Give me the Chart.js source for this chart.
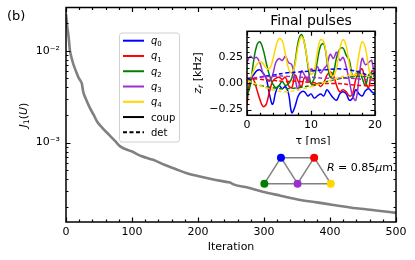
<!DOCTYPE html>
<html>
<head>
<meta charset="utf-8">
<script src="https://cdn.jsdelivr.net/npm/chart.js@4/dist/chart.umd.min.js"></script>
<style>
html, body { margin: 0; padding: 0; background: #fff; }
#wrap { position: relative; width: 415px; height: 260px; }
#main { position: absolute; left: 0; top: 0; }
#inset { position: absolute; left: 185px; top: 10px; }
</style>
</head>
<body>
<div id="wrap">
  <canvas id="main" width="415" height="260"></canvas>
  <canvas id="inset" width="200" height="135"></canvas>
</div>
<script>
const FONT = "'DejaVu Sans', sans-serif";

// main curve: cost J1(U) per iteration
const iters = [0, 1, 2, 3, 4, 6, 8, 11, 15, 19, 22, 24, 26, 30, 36, 42, 47, 55, 65, 75,
  82, 100, 115, 132, 150, 165, 183, 203, 225, 245, 250, 252, 275, 298, 325, 355, 380, 405, 440, 470, 500];
const costVals = [0.0250, 0.0215, 0.0180, 0.0160, 0.0140, 0.0100, 0.0086, 0.0072, 0.0060, 0.0051,
  0.0047, 0.0044, 0.0036, 0.0030, 0.0024, 0.0020, 0.0017, 0.00145, 0.00122, 0.00103,
  0.00091, 0.00080, 0.00071, 0.00065, 0.00057, 0.00052, 0.000465, 0.000428, 0.000395, 0.000372,
  0.000365, 0.000356, 0.000325, 0.000293, 0.000265, 0.000238, 0.000224, 0.000210, 0.000193, 0.000183,
  0.000172];

const xTicks = [0, 100, 200, 300, 400, 500];
const yTicks = [1e-3, 1e-2];

// qubits
const qLabels = ["0", "1", "2", "3", "4"];
const qColors = ["#0000ff", "#ff0000", "#008000", "#9932cc", "#ffd700"];

// lattice diagram
const nodeX = [1, 3, 0, 2, 4];
const nodeY = [1, 1, 0, 0, 0];
const edges = [[0, 1], [2, 3], [3, 4], [0, 2], [0, 3], [1, 3], [1, 4]];

// inset: final pulses
const tauFine = [0, 0.5, 1, 1.5, 2, 2.5, 3, 3.5, 4, 4.5, 5, 5.5, 6, 6.5, 7, 7.5, 8, 8.5, 9, 9.5,
  10, 10.5, 11, 11.5, 12, 12.5, 13, 13.5, 14, 14.5, 15, 15.5, 16, 16.5, 17, 17.5, 18, 18.5, 19, 19.5, 20];
const coupQ0 = [0.02, 0.04, 0.08, 0.12, 0.13, 0.10, 0.05, -0.10, -0.20, -0.08, -0.02, -0.05, -0.03, -0.10, -0.28, -0.22, -0.12, -0.08, -0.08, -0.12,
  -0.10, -0.14, -0.12, -0.10, -0.12, -0.06, -0.10, -0.14, -0.16, -0.10, -0.08, -0.10, -0.16, -0.14, -0.06, -0.10, -0.12, -0.07, -0.05, -0.08, -0.10];
const coupQ1 = [-0.20, 0.04, 0.04, -0.05, -0.15, -0.22, -0.20, -0.08, 0.02, 0.05, 0.06, 0.04, 0.06, -0.02, -0.04, 0.08, 0.02, -0.03, 0.06, 0.04,
  0.00, -0.02, 0.00, -0.03, 0.01, 0.08, 0.11, 0.08, -0.02, -0.08, -0.06, -0.08, -0.12, -0.10, 0.04, 0.10, 0.14, 0.02, -0.04, 0.12, 0.10];
const coupQ2 = [-0.12, -0.02, 0.20, 0.36, 0.40, 0.33, 0.20, 0.08, 0.00, -0.04, -0.02, 0.02, -0.02, 0.00, 0.05, 0.20, 0.40, 0.47, 0.38, 0.18,
  0.00, 0.05, 0.22, 0.36, 0.38, 0.22, 0.06, 0.10, 0.25, 0.33, 0.34, 0.27, 0.22, 0.07, 0.08, 0.12, 0.05, -0.02, 0.08, 0.10, 0.05];
const coupQ3 = [0.20, 0.26, 0.24, 0.25, 0.20, 0.10, 0.05, 0.02, 0.08, 0.20, 0.24, 0.22, 0.26, 0.20, 0.18, 0.05, -0.06, 0.12, 0.08, 0.02,
  0.14, 0.12, 0.16, 0.10, 0.14, 0.18, 0.28, 0.24, 0.30, 0.22, 0.25, 0.16, 0.02, -0.12, -0.16, 0.05, 0.24, 0.18, 0.20, 0.22, -0.02];
const coupQ4 = [0.00, 0.05, 0.12, 0.18, 0.21, 0.19, 0.15, 0.14, 0.22, 0.35, 0.43, 0.41, 0.28, 0.14, 0.10, 0.18, 0.36, 0.45, 0.38, 0.20,
  0.09, 0.12, 0.30, 0.42, 0.40, 0.24, 0.10, 0.07, 0.15, 0.33, 0.42, 0.36, 0.18, 0.07, 0.10, 0.28, 0.40, 0.34, 0.16, 0.04, 0.02];

const tauCoarse = [0, 2, 4, 6, 8, 10, 12, 14, 16, 18, 20];
const detQ0 = [0.03, 0.06, 0.08, 0.10, 0.11, 0.12, 0.13, 0.14, 0.13, 0.10, 0.04];
const detQ1 = [0.05, 0.04, 0.03, 0.02, 0.02, 0.01, 0.00, 0.00, -0.01, -0.02, -0.02];
const detQ2 = [0.00, -0.02, -0.04, -0.05, -0.04, -0.02, 0.01, 0.04, 0.06, 0.07, 0.05];
const detQ3 = [0.05, 0.06, 0.07, 0.07, 0.06, 0.06, 0.05, 0.05, 0.05, 0.04, 0.03];
const detQ4 = [0.03, -0.02, -0.06, -0.08, -0.06, -0.03, 0.01, 0.05, 0.08, 0.08, 0.05];

const insetXTicks = [0, 10, 20];
const insetYTicks = [-0.25, 0, 0.25];

const coupSeries = [coupQ0, coupQ1, coupQ2, coupQ3, coupQ4];
const detSeries = [detQ0, detQ1, detQ2, detQ3, detQ4];

// minor tick positions
const xMinor = [];
for (let v = 20; v < 500; v += 20) if (v % 100) xMinor.push(v);
const yMinor = [];
for (const d of [1e-4, 1e-3, 1e-2]) for (let k = 2; k <= 9; k++) yMinor.push(k * d);
const ixMinor = [2, 4, 6, 8, 12, 14, 16, 18];
const iyMinor = [-0.3, -0.2, -0.15, -0.1, -0.05, 0.05, 0.1, 0.15, 0.2, 0.3, 0.35, 0.4, 0.45];

const sup = { "-": "\u207b", "0": "\u2070", "1": "\u00b9", "2": "\u00b2", "3": "\u00b3", "4": "\u2074" };

// draw text made of pieces: [text, italic, subscript]
function richText(ctx, parts, x, y, size, align) {
  const fonts = parts.map(p => (p[1] ? "italic " : "") + (p[2] ? size * 0.7 : size) + "px " + FONT);
  const ws = parts.map((p, i) => { ctx.font = fonts[i]; return ctx.measureText(p[0]).width; });
  const w = ws.reduce((a, b) => a + b, 0);
  let cx = align === "center" ? x - w / 2 : align === "right" ? x - w : x;
  ctx.textAlign = "left";
  ctx.textBaseline = "alphabetic";
  parts.forEach((p, i) => {
    ctx.font = fonts[i];
    ctx.fillText(p[0], cx, p[2] ? y + size * 0.22 : y);
    cx += ws[i];
  });
}

// matplotlib-like inward ticks on all four sides plus the frame
function inwardTicks(specs) {
  return {
    id: "inwardTicks",
    afterDraw(chart) {
      const ctx = chart.ctx, a = chart.chartArea;
      ctx.save();
      ctx.strokeStyle = "#000";
      ctx.lineWidth = 1.2;
      ctx.setLineDash([]);
      for (const spec of specs) {
        const s = chart.scales[spec.id];
        for (const [vals, len] of [[spec.major, 4.5], [spec.minor, 2.5]]) {
          for (const v of vals) {
            const p = Math.round(s.getPixelForValue(v)) + 0.5;
            ctx.beginPath();
            if (s.isHorizontal()) {
              ctx.moveTo(p, a.bottom); ctx.lineTo(p, a.bottom - len);
              ctx.moveTo(p, a.top); ctx.lineTo(p, a.top + len);
            } else {
              ctx.moveTo(a.left, p); ctx.lineTo(a.left + len, p);
              ctx.moveTo(a.right, p); ctx.lineTo(a.right - len, p);
            }
            ctx.stroke();
          }
        }
      }
      ctx.lineWidth = 1.5;
      ctx.strokeRect(a.left, a.top, a.right - a.left, a.bottom - a.top);
      ctx.restore();
    }
  };
}

// texts, legend and annotation of the main panel
const mainText = {
  id: "mainText",
  afterDraw(chart) {
    const ctx = chart.ctx;
    ctx.save();
    ctx.fillStyle = "#000";
    ctx.font = "13px " + FONT;
    ctx.textBaseline = "alphabetic";
    ctx.fillText("(b)", 7, 20);

    ctx.font = "11px " + FONT;
    ctx.textAlign = "center";
    ctx.fillText("Iteration", 231, 250);

    ctx.save();
    ctx.translate(23, 115);
    ctx.rotate(-Math.PI / 2);
    richText(ctx, [["J", true], ["1", false, true], ["(", false], ["U", true], [")", false]], 0, 4, 11, "center");
    ctx.restore();

    // legend
    const bx = 119.5, by = 33, bw = 60, bh = 109;
    ctx.beginPath();
    ctx.roundRect(bx, by, bw, bh, 2.5);
    ctx.fillStyle = "rgba(255,255,255,0.85)";
    ctx.fill();
    ctx.strokeStyle = "#d0d0d0";
    ctx.lineWidth = 1;
    ctx.stroke();
    const rows = qLabels.map((l, i) => ({ color: qColors[i], dash: [], parts: [["q", true], [l, false, true]] }));
    rows.push({ color: "#000", dash: [], parts: [["coup", false]] });
    rows.push({ color: "#000", dash: [4, 2.5], parts: [["det", false]] });
    rows.forEach((r, i) => {
      const y = 40.7 + i * 15.27;
      ctx.strokeStyle = r.color;
      ctx.lineWidth = 2;
      ctx.setLineDash(r.dash);
      ctx.beginPath();
      ctx.moveTo(123, y); ctx.lineTo(144, y);
      ctx.stroke();
      ctx.setLineDash([]);
      ctx.fillStyle = "#000";
      richText(ctx, r.parts, 151, y + 3.5, 10, "left");
    });

    ctx.fillStyle = "#000";
    richText(ctx, [["R", true], [" = 0.85", false], ["\u03bc", true], ["m", false]], 393, 170.5, 11, "right");
    ctx.restore();
  }
};

const insetText = {
  id: "insetText",
  afterDraw(chart) {
    const ctx = chart.ctx;
    ctx.save();
    ctx.fillStyle = "#000";
    ctx.font = "14px " + FONT;
    ctx.textAlign = "center";
    ctx.textBaseline = "alphabetic";
    ctx.fillText("Final pulses", 126, 15);
    ctx.font = "11px " + FONT;
    ctx.fillText("\u03c4 [ms]", 128, 134);
    ctx.save();
    ctx.translate(12, 63);
    ctx.rotate(-Math.PI / 2);
    richText(ctx, [["z", true], ["r", true, true], [" [kHz]", false]], 0, 4, 11, "center");
    ctx.restore();
    ctx.restore();
  }
};

Chart.defaults.font.family = FONT;
Chart.defaults.font.size = 11;
Chart.defaults.color = "#000";

const edgeSets = edges.map(([a, b]) => ({
  data: [{ x: nodeX[a], y: nodeY[a] }, { x: nodeX[b], y: nodeY[b] }],
  borderColor: "#808080",
  borderWidth: 1.5,
  pointRadius: 0,
  xAxisID: "gx",
  yAxisID: "gy",
  order: 1
}));

new Chart(document.getElementById("main"), {
  type: "line",
  data: {
    datasets: [
      {
        data: iters.map((x, i) => ({ x, y: costVals[i] })),
        borderColor: "#808080",
        borderWidth: 2.6,
        pointRadius: 0,
        cubicInterpolationMode: "monotone",
        xAxisID: "x",
        yAxisID: "y",
        order: 2
      },
      ...edgeSets,
      {
        data: nodeX.map((x, i) => ({ x, y: nodeY[i] })),
        showLine: false,
        pointRadius: 4,
        pointBackgroundColor: qColors,
        pointBorderWidth: 0,
        xAxisID: "gx",
        yAxisID: "gy",
        order: 0
      }
    ]
  },
  options: {
    responsive: false,
    animation: false,
    events: [],
    layout: { padding: { top: 7.5, right: 19, left: 0, bottom: 0 } },
    scales: {
      x: {
        type: "linear", min: 0, max: 500,
        grid: { display: false, drawTicks: false }, border: { display: false },
        ticks: { padding: 4, maxRotation: 0 },
        afterBuildTicks: s => { s.ticks = xTicks.map(v => ({ value: v })); },
        afterFit: s => { s.height = 38; s.paddingLeft = 0; s.paddingRight = 0; }
      },
      y: {
        type: "logarithmic", min: 1.37e-4, max: 0.0295,
        grid: { display: false, drawTicks: false }, border: { display: false },
        ticks: {
          padding: 6,
          callback: v => "10" + String(Math.round(Math.log10(v))).split("").map(c => sup[c]).join("")
        },
        afterBuildTicks: s => { s.ticks = yTicks.map(v => ({ value: v })); },
        afterFit: s => { s.width = 66; s.paddingTop = 0; s.paddingBottom = 0; }
      },
      gx: { type: "linear", axis: "x", position: "bottom", display: false, min: -11.95, max: 7.93 },
      gy: { type: "linear", axis: "y", position: "left", display: false, min: -1.473, max: 6.777 }
    },
    plugins: { legend: { display: false }, tooltip: { enabled: false } }
  },
  plugins: [
    inwardTicks([{ id: "x", major: xTicks, minor: xMinor }, { id: "y", major: yTicks, minor: yMinor }]),
    mainText
  ]
});

const insetSets = [];
coupSeries.forEach((s, i) => insetSets.push({
  data: tauFine.map((x, k) => ({ x, y: s[k] })),
  borderColor: qColors[i], borderWidth: 1.5, pointRadius: 0, tension: 0.4
}));
detSeries.forEach((s, i) => insetSets.push({
  data: tauCoarse.map((x, k) => ({ x, y: s[k] })),
  borderColor: qColors[i], borderWidth: 1.5, borderDash: [4, 2.5], pointRadius: 0, tension: 0.4
}));
insetSets.forEach((d, i) => { d.order = insetSets.length - i; });

new Chart(document.getElementById("inset"), {
  type: "line",
  data: { datasets: insetSets },
  options: {
    responsive: false,
    animation: false,
    events: [],
    layout: { padding: { top: 21.3, right: 10, left: 0, bottom: 0 } },
    scales: {
      x: {
        type: "linear", min: 0, max: 20,
        grid: { display: false, drawTicks: false }, border: { display: false },
        ticks: { padding: 3, maxRotation: 0 },
        afterBuildTicks: s => { s.ticks = insetXTicks.map(v => ({ value: v })); },
        afterFit: s => { s.height = 29.7; s.paddingLeft = 0; s.paddingRight = 0; }
      },
      y: {
        type: "linear", min: -0.305, max: 0.5,
        grid: { display: false, drawTicks: false }, border: { display: false },
        ticks: { padding: 4, callback: v => v.toFixed(2).replace("-", "\u2212") },
        afterBuildTicks: s => { s.ticks = insetYTicks.map(v => ({ value: v })); },
        afterFit: s => { s.width = 62; s.paddingTop = 0; s.paddingBottom = 0; }
      }
    },
    plugins: { legend: { display: false }, tooltip: { enabled: false } }
  },
  plugins: [
    inwardTicks([{ id: "x", major: insetXTicks, minor: ixMinor }, { id: "y", major: insetYTicks, minor: iyMinor }]),
    insetText
  ]
});
</script>
</body>
</html>
